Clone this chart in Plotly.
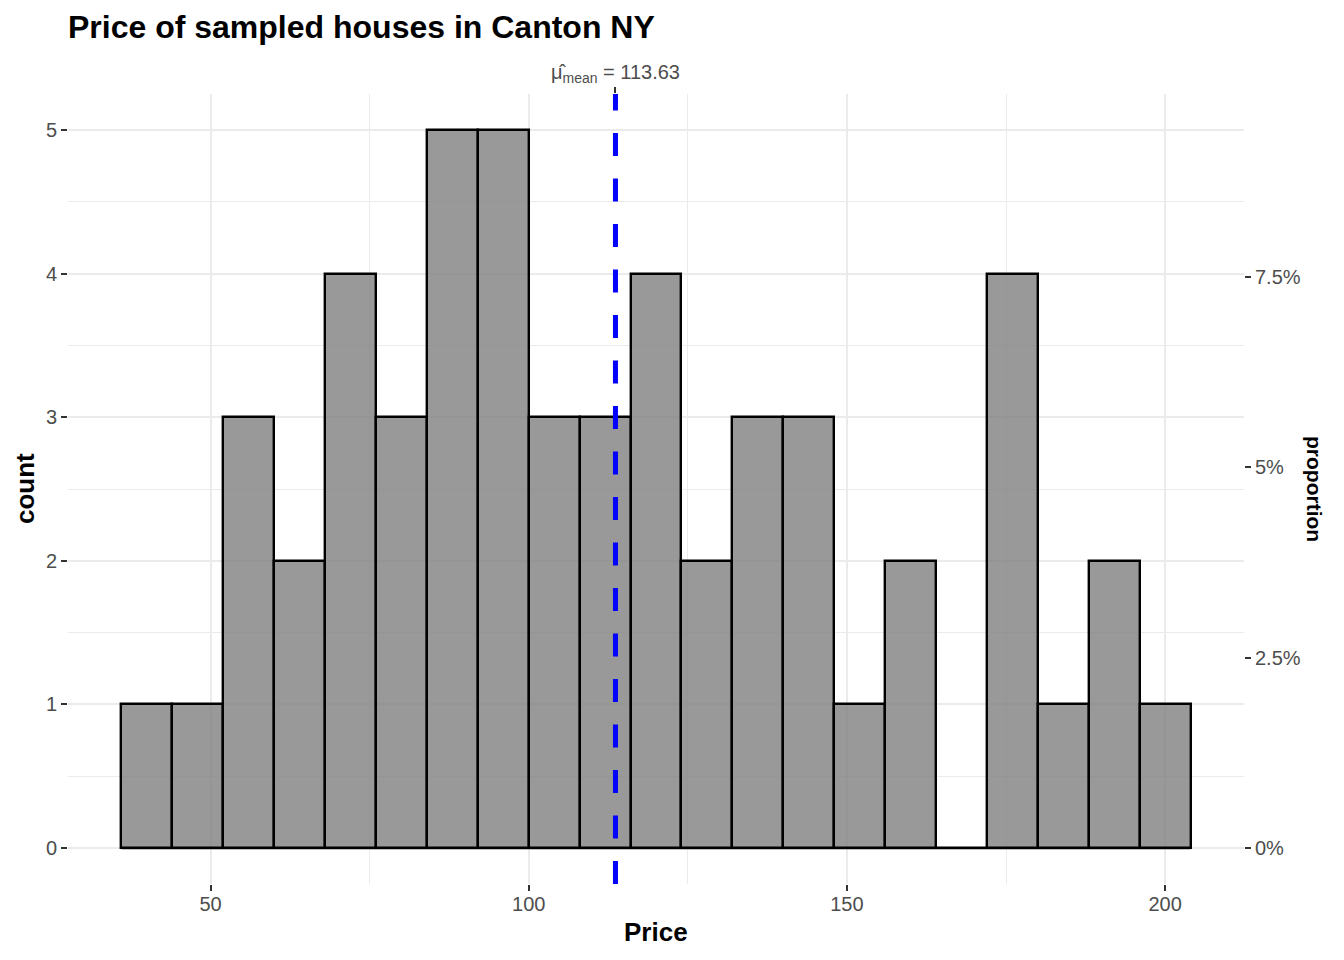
import plotly.graph_objects as go

# ---- data ----
bin_lefts = [36, 44, 52, 60, 68, 76, 84, 92, 100, 108, 116, 124, 132, 140, 148,
             156, 164, 172, 180, 188, 196]
bin_width = 8
counts = [1, 1, 3, 2, 4, 3, 5, 5, 3, 3, 4, 2, 3, 3, 1, 2, 0, 4, 1, 2, 1]
mean_price = 113.63
x_ticks = [50, 100, 150, 200]
y_ticks = [0, 1, 2, 3, 4, 5]
prop_ticks = [0, 0.025, 0.05, 0.075]
prop_labels = ["0%", "2.5%", "5%", "7.5%"]
title_text = "Price of sampled houses in Canton NY"
x_title = "Price"
y_title = "count"
y2_title = "proportion"
mean_label = "μ\u0302<sub>mean</sub> = " + f"{mean_price:.2f}"

# ---- derived ----
n_total = sum(counts)
centers = [l + bin_width / 2 for l in bin_lefts]
x_lo, x_hi = bin_lefts[0], bin_lefts[-1] + bin_width
x_pad = 0.05 * (x_hi - x_lo)
x_range = [x_lo - x_pad, x_hi + x_pad]
y_top = max(counts)
y_range = [-0.05 * y_top, 1.05 * y_top]
x_minor = [(a + b) / 2 for a, b in zip(x_ticks[:-1], x_ticks[1:])]
y_minor = [(a + b) / 2 for a, b in zip(y_ticks[:-1], y_ticks[1:])]

# page body has an 8px margin, so the figure is sized to fit inside the window
W, H = 1336, 952
ML, MR, MT, MB = 60, 100, 86, 76
PW, PH = W - ML - MR, H - MT - MB

FONT = "Liberation Sans, Arial, Helvetica, sans-serif"
TICK_FONT = dict(family=FONT, size=20, color="#4D4D4D")
GRID = "#EBEBEB"
TICK_STYLE = dict(ticks="outside", ticklen=6, tickwidth=2, tickcolor="#333333")

fig = go.Figure()
fig.add_trace(go.Bar(
    x=centers, y=counts, width=bin_width,
    marker=dict(color="rgba(127,127,127,0.8)", line=dict(color="black", width=2.4)),
    hoverinfo="skip", showlegend=False,
))
# baseline of the histogram (covers empty bins, like ggplot's zero-height rect)
fig.add_trace(go.Scatter(
    x=[x_lo, x_hi], y=[0, 0], mode="lines",
    line=dict(color="black", width=2.4), hoverinfo="skip", showlegend=False,
))
# invisible trace to attach secondary axes
fig.add_trace(go.Scatter(
    x=[mean_price], y=[0], mode="markers", marker=dict(opacity=0),
    xaxis="x2", yaxis="y2", hoverinfo="skip", showlegend=False,
))

fig.add_shape(type="line", xref="x", yref="paper", x0=mean_price, x1=mean_price,
              y0=0, y1=1, line=dict(color="#0000FF", width=5, dash="23px,22.5px"),
              layer="above")

fig.update_layout(
    width=W, height=H,
    margin=dict(l=ML, r=MR, t=MT, b=MB),
    paper_bgcolor="white", plot_bgcolor="white",
    font=dict(family=FONT),
    bargap=0,
    title=dict(text=f"<b>{title_text}</b>", x=ML / W, xanchor="left",
               y=1 - 19 / H, yanchor="middle",
               font=dict(family=FONT, size=32, color="black")),
    xaxis=dict(range=x_range, tickvals=x_ticks, showgrid=True, gridcolor=GRID,
               gridwidth=2, zeroline=False, showline=False, tickfont=TICK_FONT,
               ticklabelstandoff=-4,
               minor=dict(tickmode="array", tickvals=x_minor, showgrid=True,
                          gridcolor=GRID, gridwidth=1),
               **TICK_STYLE),
    yaxis=dict(range=y_range, tickvals=y_ticks, showgrid=True, gridcolor=GRID,
               gridwidth=2, zeroline=False, showline=False, tickfont=TICK_FONT,
               minor=dict(tickmode="array", tickvals=y_minor, showgrid=True,
                          gridcolor=GRID, gridwidth=1),
               **TICK_STYLE),
    xaxis2=dict(range=x_range, overlaying="x", anchor="y", side="top",
                tickvals=[mean_price], ticktext=[mean_label], showgrid=False,
                zeroline=False, showline=False, tickfont=TICK_FONT, **TICK_STYLE),
    yaxis2=dict(range=[y_range[0] / n_total, y_range[1] / n_total], overlaying="y",
                anchor="x", side="right", tickvals=prop_ticks, ticktext=prop_labels,
                showgrid=False, zeroline=False, showline=False, tickfont=TICK_FONT,
                **TICK_STYLE),
    annotations=[
        dict(text=f"<b>{x_title}</b>", xref="paper", yref="paper", x=0.5,
             y=-48 / PH, xanchor="center", yanchor="middle", showarrow=False,
             font=dict(family=FONT, size=26, color="black")),
        dict(text=f"<b>{y_title}</b>", xref="paper", yref="paper", x=-43 / PW,
             y=0.5, xanchor="center", yanchor="middle", textangle=-90, showarrow=False,
             font=dict(family=FONT, size=26, color="black")),
        dict(text=f"<b>{y2_title}</b>", xref="paper", yref="paper",
             x=1 + 71 / PW, y=0.5, xanchor="center", yanchor="middle",
             textangle=90, showarrow=False,
             font=dict(family=FONT, size=21, color="black")),
    ],
)

fig.write_html("out.html")
